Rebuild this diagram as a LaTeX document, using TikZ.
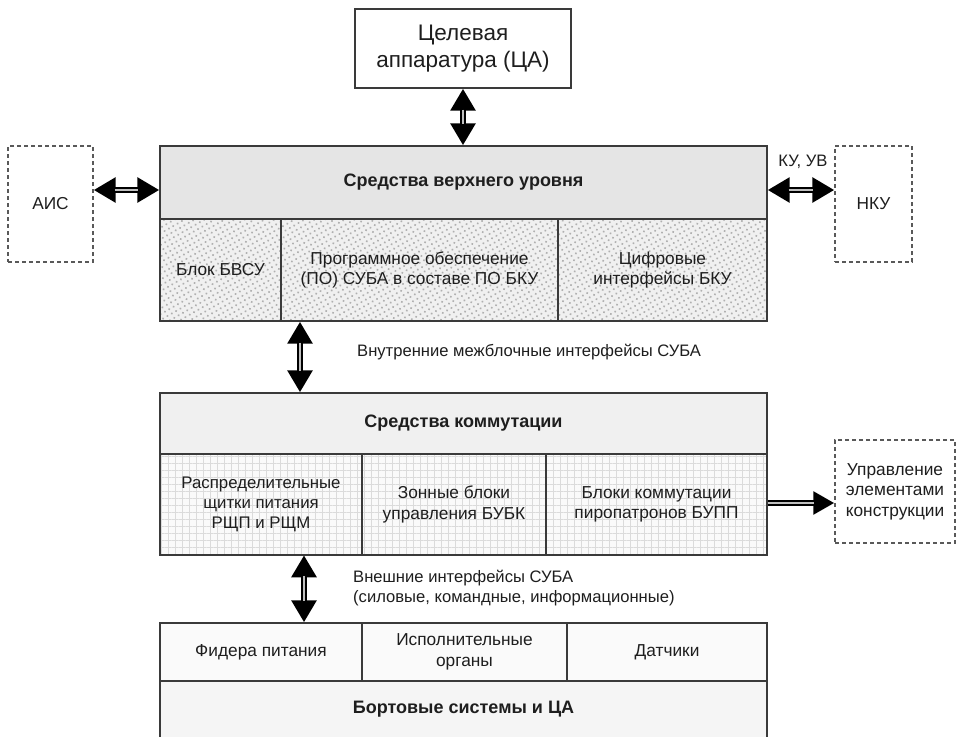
\documentclass[tikz,border=0pt]{standalone}
\usepackage{fontspec}
\setmainfont{Liberation Sans}
\usetikzlibrary{arrows.meta,patterns.meta}
\definecolor{ink}{HTML}{1E1E1E}
\definecolor{edge}{HTML}{3A3A3A}
\begin{document}
\begin{tikzpicture}[x=1pt,y=-1pt,
  txt/.style={text=ink, font=\fontsize{17.3}{20.5}\selectfont},
  box/.style={txt, draw=edge, line width=1.3pt, inner sep=2pt, align=center},
  head/.style={box, fill=gray!20, font=\bfseries\fontsize{18}{21}\selectfont},
  stip/.style={box, preaction={fill=gray!12},
    pattern={Dots[distance=5pt, radius=1.15pt, angle=30]}, pattern color=gray!62},
  gridcell/.style={box, preaction={fill=gray!4},
    pattern={Hatch[distance=7pt, angle=0, line width=0.5pt]}, pattern color=gray!28},
  plain/.style={box, fill=gray!4},
  ghost/.style={txt, draw=gray!70!black, dash pattern=on 4pt off 3pt,
    line width=1.3pt, align=center, inner sep=2pt},
  duplex/.style={line width=6pt,
    {Triangle[length=22pt,width=24pt]}-{Triangle[length=22pt,width=24pt]},
    postaction={draw=gray!50, line width=2pt, arrows=-,
      shorten <=21pt, shorten >=21pt}},
  simplex/.style={line width=6pt, -{Triangle[length=21pt,width=22pt]},
    postaction={draw=gray!50, line width=2pt, arrows=-, shorten >=20pt}},
  lbl/.style={txt, font=\fontsize{16.6}{19.5}\selectfont, align=left, inner sep=0pt}
]
\useasboundingbox (0,0) rectangle (960,736);

% payload on top
\node[box, fill=white, minimum width=216pt, minimum height=79pt,
  font=\fontsize{22.5}{26.5}\selectfont] (ca) at (463,48.5)
  {Целевая\\аппаратура (ЦА)};

% side systems
\node[ghost, minimum width=85pt, minimum height=116pt] (ais) at (50.5,204) {АИС};
\node[ghost, minimum width=77pt, minimum height=116pt] (nku) at (873.5,204) {НКУ};

% upper level
\node[head, minimum width=607pt, minimum height=73pt] (hdrA) at (463.5,182.5)
  {Средства верхнего уровня};
\node[stip, minimum width=121pt, minimum height=102pt] (a1) at (220.5,270) {Блок БВСУ};
\node[stip, minimum width=277pt, minimum height=102pt] (a2) at (419.5,270)
  {Программное обеспечение\\(ПО) СУБА в составе ПО БКУ};
\node[stip, minimum width=209pt, minimum height=102pt] (a3) at (662.5,270)
  {Цифровые\\интерфейсы БКУ};

% switching level
\node[head, fill=gray!12, minimum width=607pt, minimum height=61pt] (hdrB) at (463.5,423.5)
  {Средства коммутации};
\node[gridcell, minimum width=202pt, minimum height=101pt,
  font=\fontsize{16.8}{20}\selectfont] (b1) at (261,504.5)
  {Распределительные\\щитки питания\\РЩП и РЩМ};
\node[gridcell, minimum width=184pt, minimum height=101pt] (b2) at (454,504.5)
  {Зонные блоки\\управления БУБК};
\node[gridcell, minimum width=221pt, minimum height=101pt] (b3) at (656.5,504.5)
  {Блоки коммутации\\пиропатронов БУПП};

\node[ghost, minimum width=120pt, minimum height=103pt] (upr) at (895,491.5)
  {Управление\\элементами\\конструкции};

% on-board systems
\node[plain, minimum width=202pt, minimum height=58pt] (c1) at (261,652) {Фидера питания};
\node[plain, minimum width=205pt, minimum height=58pt] (c2) at (464.5,652)
  {Исполнительные\\органы};
\node[plain, minimum width=200pt, minimum height=58pt] (c3) at (667,652) {Датчики};
\node[head, fill=gray!8, minimum width=607pt, minimum height=57pt] (hdrC) at (463.5,709.5)
  {Бортовые системы и ЦА};

% connectors
\coordinate (yrow) at (0,190);
\coordinate (ax) at (300,0);
\coordinate (bx) at (304,0);
\coordinate (yb) at (0,503);

\draw[duplex] (ca.south) -- (ca.south |- hdrA.north);
\draw[duplex] (ais.east |- yrow) -- (hdrA.west |- yrow);
\draw[duplex] (hdrA.east |- yrow) -- (nku.west |- yrow);
\draw[duplex] (a2.south -| ax) -- (hdrB.north -| ax);
\draw[duplex] (b1.south -| bx) -- (c1.north -| bx);
\draw[simplex] (b3.east |- yb) -- (upr.west |- yb);

% interface labels
\node[lbl] (ku) at (803,162) {КУ, УВ};
\node[lbl, anchor=west] (inner) at (357,352) {Внутренние межблочные интерфейсы СУБА};
\node[lbl, anchor=west] (outer) at (353,588)
  {Внешние интерфейсы СУБА\\(силовые, командные, информационные)};
\end{tikzpicture}
\end{document}
